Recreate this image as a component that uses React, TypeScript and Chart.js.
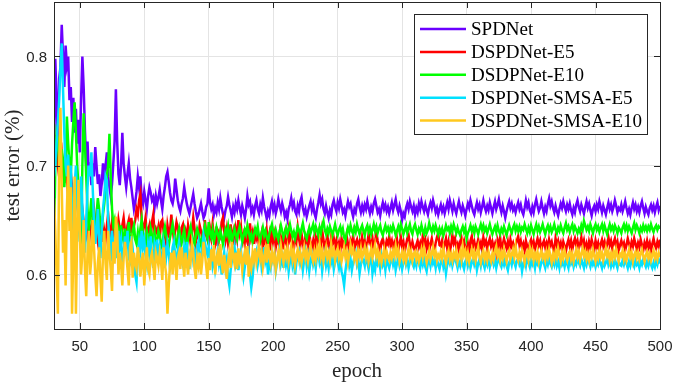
import React, { useEffect, useRef } from 'react';
import { Chart, registerables } from 'chart.js';

Chart.register(...registerables);

// ---- data (test error, in thousandths), one value per epoch starting at epoch 30 ----
const seriesNames = ['SPDNet', 'DSPDNet-E5', 'DSDPNet-E10', 'DSPDNet-SMSA-E5', 'DSPDNet-SMSA-E10'];
const seriesColors = ['#6a00ff', '#ff0000', '#00ff00', '#00e1ff', '#ffc81e'];
const xTicks = [50, 100, 150, 200, 250, 300, 350, 400, 450, 500];
const yTicks = [0.6, 0.7, 0.8];
const epochStart = 30;
const epochStep = 1;

const spdnet = [
  700,798,760,722,780,790,829,800,772,810,792,800,760,772,740,762,730,752,720,742,
  712,760,800,772,732,700,722,692,703,682,702,690,717,700,683,692,672,683,702,690,
  700,712,690,680,672,683,702,722,770,722,692,682,700,730,702,690,680,692,702,688,
  680,670,660,666,676,690,680,690,670,665,676,668,660,672,680,675,668,671,662,672,
  665,671,678,668,660,672,680,690,694,685,675,668,665,672,688,678,668,662,658,665,
  670,680,672,665,660,656,662,668,674,665,658,652,655,660,665,658,652,655,662,665,
  679,666,660,664,655,661,657,666,660,670,662,656,652,659,663,671,664,659,653,662,
  657,665,660,668,661,655,663,658,652,660,672,664,667,657,661,655,663,668,660,656,
  664,659,670,662,657,651,658,654,662,667,659,664,656,661,669,663,658,665,660,653,
  657,651,660,664,670,662,666,658,655,663,658,667,671,661,656,660,653,658,663,667,
  659,664,656,652,660,666,673,665,669,660,656,663,657,652,659,655,664,668,662,658,
  666,661,669,663,657,660,654,661,667,662,665,658,653,660,657,665,669,662,657,663,
  658,664,660,667,661,656,662,658,665,669,663,657,660,654,661,666,660,664,658,662,
  656,661,666,659,664,669,661,657,663,658,650,656,653,661,665,660,667,662,658,663,
  655,661,657,665,660,667,662,658,664,659,655,662,666,661,668,663,657,661,655,660,
  664,658,662,656,661,666,660,668,663,658,665,660,656,662,667,661,657,663,659,654,
  660,665,661,668,663,658,655,661,666,660,664,657,662,668,662,658,663,659,666,661,
  656,662,667,660,664,669,662,657,663,658,652,658,663,667,661,665,659,662,657,662,
  666,660,664,658,655,661,668,662,666,659,656,662,657,664,669,663,658,661,667,661,
  656,662,658,665,670,663,667,661,657,663,658,654,660,665,661,667,662,658,664,660,
  665,659,655,661,657,664,668,662,658,664,660,656,662,667,661,665,659,654,660,663,
  658,664,660,667,662,657,663,659,655,661,666,660,664,658,662,668,663,657,661,659,
  664,658,662,667,661,656,660,655,661,666,660,664,658,662,657,663,667,661,656,662,
  658,655,661,664,659,663,657,662,666,659,663,
];

const dspdnetE5 = [
  716,728,715,700,690,705,712,695,684,700,688,672,690,694,680,662,675,680,668,652,
  660,672,660,648,640,645,632,627,640,645,650,660,648,638,630,645,636,648,630,640,
  632,645,655,642,636,648,640,630,628,638,650,642,634,645,652,640,632,645,650,638,
  652,640,645,650,660,655,668,674,650,640,645,652,636,640,645,632,648,655,638,642,
  638,644,633,648,650,640,636,628,645,637,640,655,643,632,640,648,643,634,629,643,
  646,635,640,632,645,638,628,640,652,642,630,638,634,645,640,633,625,650,638,632,
  628,642,634,646,636,630,644,626,638,635,648,652,640,632,641,629,636,646,630,638,
  627,641,633,650,638,644,630,636,627,642,631,625,647,634,639,628,643,633,637,626,
  632,638,624,633,629,640,628,636,622,644,631,637,625,632,629,638,627,634,623,636,
  630,625,640,632,636,627,623,634,630,643,633,626,637,629,622,635,631,626,638,628,
  625,631,622,634,628,637,630,626,640,632,623,629,636,626,622,635,629,633,625,631,
  624,629,621,633,627,630,624,635,628,622,631,627,636,623,629,632,625,630,622,634,
  627,631,624,628,637,630,626,633,623,629,639,631,626,622,630,633,627,624,631,628,
  635,627,631,623,629,625,632,622,628,634,626,630,621,627,633,636,628,624,630,625,
  621,627,631,625,629,623,635,628,632,624,630,622,628,633,626,621,629,634,638,627,
  626,631,623,628,633,624,630,621,627,636,629,633,625,628,622,630,634,627,631,624,
  622,628,620,631,635,626,630,624,627,632,625,629,622,634,628,631,623,629,633,626,
  630,624,628,620,631,626,634,623,627,633,628,624,630,622,632,626,629,623,627,631,
  635,627,631,624,628,622,631,626,620,629,632,625,630,623,628,633,627,631,622,628,
  631,625,629,623,632,627,630,624,621,633,627,631,625,629,622,630,626,621,628,632,
  626,631,623,629,633,627,631,624,628,634,626,631,623,628,621,630,625,632,627,623,
  631,625,629,622,628,632,626,630,623,628,634,627,631,624,629,633,626,630,622,627,
  631,626,629,622,627,633,628,624,630,626,633,628,623,629,625,632,627,622,629,625,
  631,625,629,622,628,633,627,624,630,626,632,
];

const dsdpnetE10 = [
  620,700,730,725,700,690,715,705,680,700,745,720,700,690,720,740,758,730,700,680,
  650,625,700,748,720,690,660,640,655,670,650,640,632,655,670,660,645,640,655,665,
  680,690,700,729,690,660,645,650,638,632,640,628,645,636,630,642,628,636,648,632,
  626,640,645,632,628,638,626,642,650,636,630,625,640,634,628,642,636,630,638,626,
  632,640,636,628,624,638,644,636,630,626,634,640,646,638,630,627,636,642,634,629,
  636,641,630,625,633,639,644,637,631,628,636,642,638,632,627,634,640,645,638,633,
  648,638,634,641,630,636,643,637,632,640,635,628,634,641,637,644,633,639,630,636,
  642,636,632,639,644,638,630,635,641,637,645,639,633,637,630,636,642,638,644,635,
  631,638,643,636,640,634,630,637,642,646,639,635,641,636,632,639,645,640,634,638,
  643,637,641,646,640,635,639,633,638,644,641,636,642,647,640,636,633,639,643,638,
  642,646,639,644,640,636,643,638,645,649,641,637,642,638,644,640,636,641,646,640,
  636,641,644,638,642,634,631,638,643,639,645,640,637,643,639,646,641,637,642,645,
  640,636,642,645,639,643,637,641,646,640,644,638,642,645,639,636,641,645,640,643,
  638,643,640,645,641,636,640,644,639,646,642,637,641,645,638,642,646,640,637,643,
  646,641,637,642,639,645,640,637,643,638,641,647,642,639,644,640,645,641,637,642,
  638,642,636,640,645,641,643,638,644,640,646,642,638,643,639,636,641,644,639,643,
  633,638,641,645,640,643,638,644,641,637,642,646,641,645,640,643,638,642,646,641,
  637,641,644,639,645,640,637,642,639,644,640,636,641,645,641,638,643,646,640,644,
  640,644,639,643,641,646,642,638,643,639,645,641,637,642,646,640,644,639,642,646,
  641,637,642,645,640,644,639,642,646,641,638,643,640,645,641,638,643,647,641,644,
  639,643,646,640,644,641,638,642,639,645,641,649,645,641,644,640,646,642,638,643,
  646,641,644,639,643,646,640,645,641,637,642,646,641,644,640,645,642,638,643,641,
  638,643,646,641,645,640,644,641,638,643,647,641,645,642,638,643,640,645,641,644,
  640,644,641,646,642,639,643,645,641,644,642,
];

const smsaE5 = [
  690,700,720,740,760,790,812,770,730,700,690,710,680,700,662,640,680,700,665,650,
  630,690,662,640,620,650,680,700,690,712,680,650,628,640,660,632,615,640,660,672,
  690,686,650,630,612,640,628,620,635,615,640,625,632,612,618,635,624,640,615,612,
  635,624,610,600,593,618,630,622,640,625,632,618,610,628,620,635,615,606,628,622,
  632,614,625,618,610,630,624,616,628,620,606,612,625,630,618,610,622,630,620,612,
  608,625,618,630,616,605,622,628,614,620,612,625,630,618,610,624,636,630,622,618,
  626,614,620,608,615,604,612,622,610,617,600,611,620,606,614,598,590,604,613,620,
  626,611,618,604,615,622,609,598,607,617,612,620,600,588,597,611,618,622,609,616,
  620,607,614,625,612,617,600,611,606,620,613,618,603,611,619,624,610,616,606,621,
  609,615,603,612,618,608,614,600,611,617,621,610,615,604,613,620,608,616,603,612,
  618,609,614,606,617,620,611,616,603,612,619,608,614,606,618,611,616,605,612,617,
  612,606,614,603,598,590,603,612,617,608,614,604,611,616,620,609,613,601,609,615,
  613,608,619,611,605,614,617,601,609,604,615,610,614,606,616,609,613,604,614,610,
  606,612,616,609,614,604,610,615,608,613,605,611,616,609,614,606,612,617,610,607,
  613,608,617,611,606,614,609,615,607,603,611,614,608,616,610,613,606,614,609,605,
  611,615,607,612,601,609,614,610,616,608,613,617,611,606,612,608,614,609,605,612,
  615,608,613,606,611,615,609,613,604,610,614,608,616,610,606,613,609,615,607,612,
  615,609,613,606,612,616,610,607,613,609,615,608,604,611,614,609,616,611,607,613,
  614,609,612,603,610,614,608,616,611,607,614,609,612,606,615,610,613,606,611,615,
  610,606,613,609,615,610,607,613,609,616,608,612,606,614,609,612,607,613,610,606,
  615,610,613,607,612,609,615,611,608,614,610,606,613,609,615,611,607,613,609,612,
  607,612,609,614,610,606,613,608,611,615,609,613,607,611,608,614,610,606,612,609,
  608,613,609,614,610,606,612,608,614,610,607,613,609,611,606,612,609,614,610,607,
  612,608,613,609,606,611,607,613,609,614,610,
];

const smsaE10 = [
  670,640,600,564,700,753,680,620,650,590,660,700,640,680,564,620,690,564,640,687,
  640,600,620,650,605,580,620,640,600,615,650,625,600,580,610,625,598,575,620,640,
  610,595,640,620,605,585,630,610,653,640,600,620,610,590,615,630,620,605,590,625,
  630,597,620,610,605,625,615,598,612,620,590,610,625,605,600,615,620,608,595,620,
  615,608,620,612,595,625,610,600,564,590,610,620,600,622,612,595,615,620,605,625,
  612,598,620,610,600,618,612,628,620,605,596,615,608,620,600,612,630,620,608,596,
  615,604,623,612,627,600,614,620,608,628,612,601,618,608,596,612,620,606,630,617,
  610,620,605,624,613,618,604,614,621,609,626,598,612,606,620,613,624,611,618,626,
  614,620,607,616,623,611,628,617,610,621,613,619,605,614,621,612,626,617,611,622,
  616,624,612,619,626,614,621,609,617,623,614,620,611,618,625,615,621,612,619,626,
  617,612,621,614,624,618,628,616,622,612,619,625,615,620,613,628,619,623,613,620,
  624,615,620,612,618,625,616,621,611,618,627,620,624,614,619,612,622,617,624,615,
  620,625,616,622,612,618,624,615,621,627,617,622,613,619,611,617,623,614,621,616,
  613,620,615,622,617,626,618,623,612,617,621,614,620,612,618,624,616,621,613,619,
  621,614,619,612,617,623,616,624,618,611,616,622,614,619,625,617,621,613,618,615,
  621,615,624,617,611,618,622,614,619,613,620,616,622,612,617,621,614,626,618,622,
  614,620,612,618,623,616,621,613,619,625,616,611,618,622,614,619,613,621,616,612,
  619,614,622,626,617,621,613,620,615,623,617,612,619,622,614,618,623,616,626,617,
  613,620,615,622,617,611,618,621,614,624,617,622,613,619,615,621,612,618,622,615,
  618,613,621,616,623,617,611,619,614,621,616,624,618,612,620,615,622,617,613,619,
  621,614,619,612,618,623,616,621,613,619,624,617,621,614,619,613,620,616,623,617,
  612,619,615,622,616,620,613,618,624,617,621,613,619,614,621,616,623,617,612,619,
  617,622,614,619,613,618,623,616,620,612,618,621,615,620,614,619,623,617,612,618,
  621,615,619,613,618,622,615,619,614,620,616,
];

const SERIF = '"Liberation Serif", "Times New Roman", serif';
const SANS = '"Liberation Sans", Arial, Helvetica, sans-serif';
const AXIS_COLOR = '#262626';

const decorPlugin = {
  id: 'decor',
  afterDraw(chart: any) {
    const { ctx, chartArea } = chart;
    const { left, right, top, bottom } = chartArea;
    const xs = chart.scales.x;
    const ys = chart.scales.y;
    ctx.save();
    // box
    ctx.strokeStyle = AXIS_COLOR;
    ctx.lineWidth = 1;
    ctx.strokeRect(Math.round(left) + 0.5, Math.round(top) + 0.5, Math.round(right - left), Math.round(bottom - top));
    // inward ticks
    const tl = 6;
    ctx.beginPath();
    xTicks.forEach((v) => {
      const px = Math.round(xs.getPixelForValue(v)) + 0.5;
      ctx.moveTo(px, bottom);
      ctx.lineTo(px, bottom - tl);
      ctx.moveTo(px, top);
      ctx.lineTo(px, top + tl);
    });
    yTicks.forEach((v) => {
      const py = Math.round(ys.getPixelForValue(v)) + 0.5;
      ctx.moveTo(left, py);
      ctx.lineTo(left + tl, py);
      ctx.moveTo(right, py);
      ctx.lineTo(right - tl, py);
    });
    ctx.stroke();
    // tick labels
    ctx.fillStyle = AXIS_COLOR;
    ctx.font = `15px ${SANS}`;
    ctx.textAlign = 'center';
    ctx.textBaseline = 'middle';
    xTicks.forEach((v) => {
      ctx.fillText(String(v), xs.getPixelForValue(v), bottom + 18);
    });
    ctx.textAlign = 'right';
    yTicks.forEach((v) => {
      ctx.fillText(v.toFixed(1), left - 7, ys.getPixelForValue(v) + 1);
    });
    // axis titles
    ctx.font = `21px ${SERIF}`;
    ctx.textAlign = 'center';
    ctx.textBaseline = 'middle';
    ctx.fillText('epoch', (left + right) / 2, 371);
    ctx.save();
    ctx.translate(13, (top + bottom) / 2);
    ctx.rotate(-Math.PI / 2);
    ctx.fillText('test error (%)', 0, 0);
    ctx.restore();
    // legend
    const bx = 414.5, by = 14.5, bw = 233, bh = 120;
    ctx.fillStyle = '#ffffff';
    ctx.fillRect(bx, by, bw, bh);
    ctx.strokeStyle = AXIS_COLOR;
    ctx.lineWidth = 1;
    ctx.strokeRect(bx, by, bw, bh);
    ctx.font = `19px ${SERIF}`;
    ctx.textAlign = 'left';
    ctx.textBaseline = 'middle';
    seriesNames.forEach((name, k) => {
      const cy = 29 + k * 22.9;
      ctx.strokeStyle = seriesColors[k];
      ctx.lineWidth = 2.5;
      ctx.beginPath();
      ctx.moveTo(420, cy);
      ctx.lineTo(466, cy);
      ctx.stroke();
      ctx.fillStyle = '#000000';
      ctx.fillText(name, 471, cy + 1);
    });
    ctx.restore();
  },
};

export default function App() {
  const ref = useRef<HTMLCanvasElement>(null);
  useEffect(() => {
    const canvas = ref.current;
    if (!canvas) return;
    const all = [spdnet, dspdnetE5, dsdpnetE10, smsaE5, smsaE10];
    const datasets = all.map((vals, k) => ({
      label: seriesNames[k],
      data: vals.map((v, i) => ({ x: epochStart + i * epochStep, y: v / 1000 })),
      borderColor: seriesColors[k],
      backgroundColor: seriesColors[k],
      borderWidth: 2.5,
      pointRadius: 0,
      tension: 0,
      fill: false,
      order: all.length - 1 - k,
    }));
    const chart = new Chart(canvas, {
      type: 'line',
      data: { datasets },
      plugins: [decorPlugin],
      options: {
        responsive: false,
        animation: false,
        layout: { padding: { top: 2, right: 14, left: 0, bottom: 0 } },
        plugins: { legend: { display: false }, tooltip: { enabled: false } },
        scales: {
          x: {
            type: 'linear',
            min: 30,
            max: 500,
            afterBuildTicks: (s: any) => { s.ticks = xTicks.map((v) => ({ value: v })); },
            afterFit: (s: any) => { s.height = 56; s.paddingLeft = 0; s.paddingRight = 0; },
            ticks: { display: false },
            grid: { color: '#e4e4e4', drawTicks: false, lineWidth: 1 },
            border: { display: false },
          },
          y: {
            type: 'linear',
            min: 0.55,
            max: 0.85,
            afterBuildTicks: (s: any) => { s.ticks = yTicks.map((v) => ({ value: v })); },
            afterFit: (s: any) => { s.width = 54; s.paddingTop = 0; s.paddingBottom = 0; },
            ticks: { display: false },
            grid: { color: '#e4e4e4', drawTicks: false, lineWidth: 1 },
            border: { display: false },
          },
        },
      },
    });
    return () => chart.destroy();
  }, []);
  return (
    <div style={{ position: 'fixed', left: 0, top: 0, width: 674, height: 385, background: '#fff' }}>
      <canvas ref={ref} width={674} height={385} style={{ width: 674, height: 385, display: 'block' }} />
    </div>
  );
}
